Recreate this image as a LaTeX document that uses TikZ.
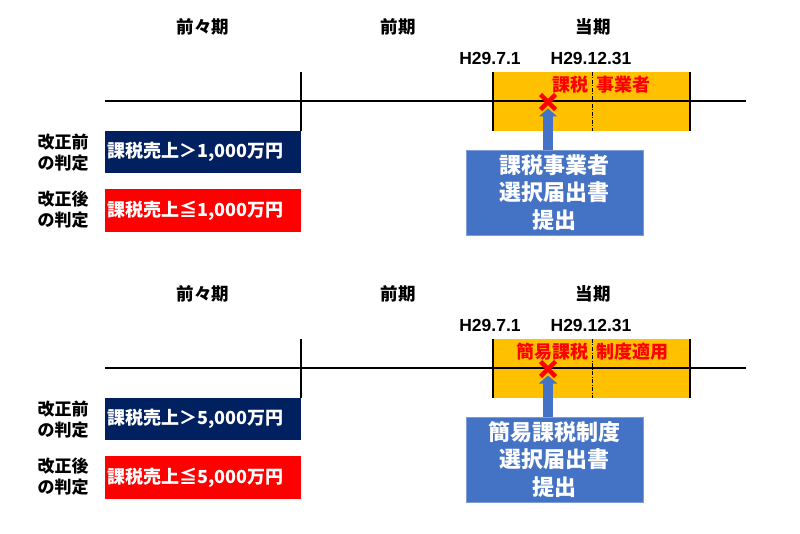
\documentclass[tikz,border=0pt]{standalone}
\usepackage{fontspec}
\setmainfont{Noto Sans CJK JP}
\newfontfamily\latfont{Liberation Sans}
\usetikzlibrary{arrows.meta,calc}
\definecolor{navyc}{HTML}{002060}
\definecolor{redc}{HTML}{FF0000}
\definecolor{orangec}{HTML}{FFC000}
\definecolor{bluec}{HTML}{4472C4}
\tikzset{
  hdr/.style={font=\bfseries\fontsize{17.5}{20}\selectfont, inner sep=0},
  datelbl/.style={font=\latfont\bfseries\fontsize{17.5}{20}\selectfont, inner sep=0},
  judg/.style={font=\bfseries\fontsize{17}{21}\selectfont, align=center, inner sep=0},
  condbox/.style={anchor=north west, minimum height=42, text width=191, inner xsep=2.5, inner ysep=0, align=left, text=white, font=\bfseries\fontsize{18}{20}\selectfont},
  curbox/.style={fill=orangec, minimum width=197, minimum height=59, inner sep=0, anchor=north west},
  redtxt/.style={text=redc, font=\bfseries\fontsize{18}{20}\selectfont, inner sep=0},
  bluebox/.style={fill=bluec, draw=bluec!70!white, minimum width=177, minimum height=85, inner sep=0, align=center, text=white, font=\bfseries\fontsize{22}{27.5}\selectfont},
  tline/.style={line width=1.4pt, black},
  edge/.style={line width=2pt, black},
  dashdiv/.style={line width=1pt, black, dash pattern=on 4pt off 1.5pt on 1pt off 1.5pt},
  xmark/.style={line width=4.5pt, redc},
  uparrow/.style={line width=10pt, bluec, -{Triangle[width=18pt,length=8pt]}},
}
\newcommand\drawpanel[6]{%
  % #1 suffix, #2 y offset, #3 amount, #4 red left, #5 red right, #6 blue line1
  \begin{scope}[yshift=-#2pt]
    \node[hdr] (hA#1) at (203,27) {前々期};
    \node[hdr] (hB#1) at (398,27) {前期};
    \node[hdr] (hC#1) at (593,27) {当期};
    \node[datelbl] (dA#1) at (490,58) {H29.7.1};
    \node[datelbl] (dB#1) at (591,58) {H29.12.31};
    \node[curbox] (cur#1) at (493,72) {};
    \node[condbox, fill=navyc] (nav#1) at (105,131) {課税売上＞#3万円};
    \node[condbox, fill=redc, minimum height=43] (red#1) at (105,189) {課税売上≦#3万円};
    \node[judg] (jA#1) at (63,152.5) {改正前\\の判定};
    \node[judg] (jB#1) at (63,210) {改正後\\の判定};
    \coordinate (tl#1) at (105,101);
    \coordinate (tr#1) at (746,101);
    \coordinate (tk#1) at (301,72);
    \coordinate (dv#1) at (592,72);
    \draw[tline] (tl#1) -- (tr#1);
    \draw[tline] (tk#1) -- (tk#1 |- nav#1.north);
    \draw[edge] (cur#1.north west) -- (cur#1.south west);
    \draw[edge] (cur#1.north east) -- (cur#1.south east);
    \draw[dashdiv] (dv#1) -- (dv#1 |- cur#1.south);
    \node[redtxt, anchor=east] (rl#1) at (589,85) {#4};
    \node[redtxt, anchor=west] (rr#1) at (596,85) {#5};
    \node[bluebox] (blue#1) at (554.5,192.5) {#6\\選択届出書\\提出};
    \coordinate (xm#1) at (548,102);
    \coordinate (tip#1) at (548,108.5);
    \draw[uparrow] (tip#1 |- blue#1.north) -- (tip#1);
    \draw[xmark] ($(xm#1)+(-7.5,-7.5)$) -- ($(xm#1)+(7.5,7.5)$);
    \draw[xmark] ($(xm#1)+(-7.5,7.5)$) -- ($(xm#1)+(7.5,-7.5)$);
  \end{scope}%
}
\begin{document}
\begin{tikzpicture}[x=1pt,y=-1pt]
  \useasboundingbox[fill=white] (0,0) rectangle (800,534);
  \drawpanel{a}{0}{1,000}{課税}{事業者}{課税事業者}
  \drawpanel{b}{267}{5,000}{簡易課税}{制度適用}{簡易課税制度}
\end{tikzpicture}
\end{document}
